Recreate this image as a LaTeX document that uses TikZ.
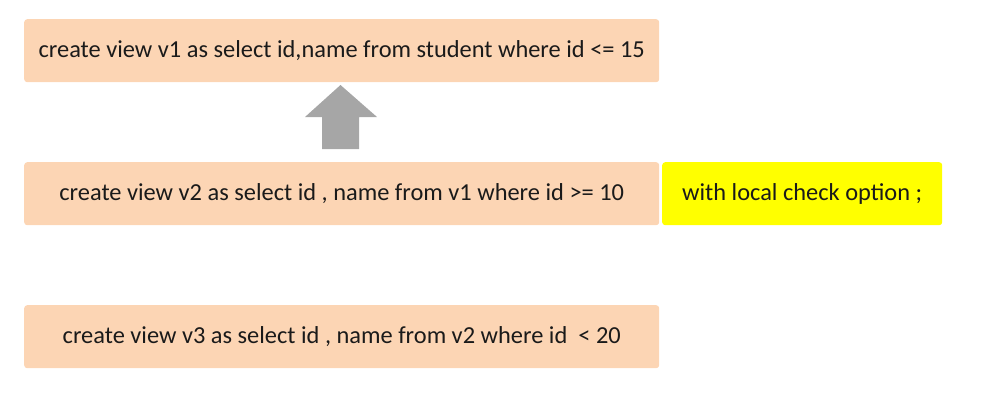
\documentclass[tikz,border=0pt]{standalone}
\usepackage{fontspec}
\setmainfont{Carlito}
\definecolor{peach}{HTML}{FCD5B4}
\definecolor{ylw}{HTML}{FFFF00}
\definecolor{arrowgray}{HTML}{A6A6A6}
\definecolor{txt}{HTML}{1A1A1A}
\begin{document}
\begin{tikzpicture}[x=1pt,y=-1pt,
  box/.style={fill=peach,draw=none,rounded corners=3pt,minimum width=635pt,minimum height=63pt,inner sep=0pt,anchor=north west,text=txt,text height=13pt,text depth=0pt,font=\fontsize{24.4}{28}\selectfont},
  ybox/.style={box,fill=ylw,minimum width=280pt}]
\useasboundingbox (0,0) rectangle (997,413);
\node[box] (v1) at (24,19) {create view v1 as select id,name from student where id <= 15};
\node[box] (v2) at (24,162) {create view v2 as select id , name from v1 where id >= 10};
\node[ybox] (opt) at (662,162) {with local check option ;};
\node[box] (v3) at (24,305) {create view v3 as select id , name from v2 where id\ \ < 20};
\fill[arrowgray] (322,149) -- (322,117) -- (305,117) -- (340.5,85) -- (377,117) -- (359,117) -- (359,149) -- cycle;
\end{tikzpicture}
\end{document}
